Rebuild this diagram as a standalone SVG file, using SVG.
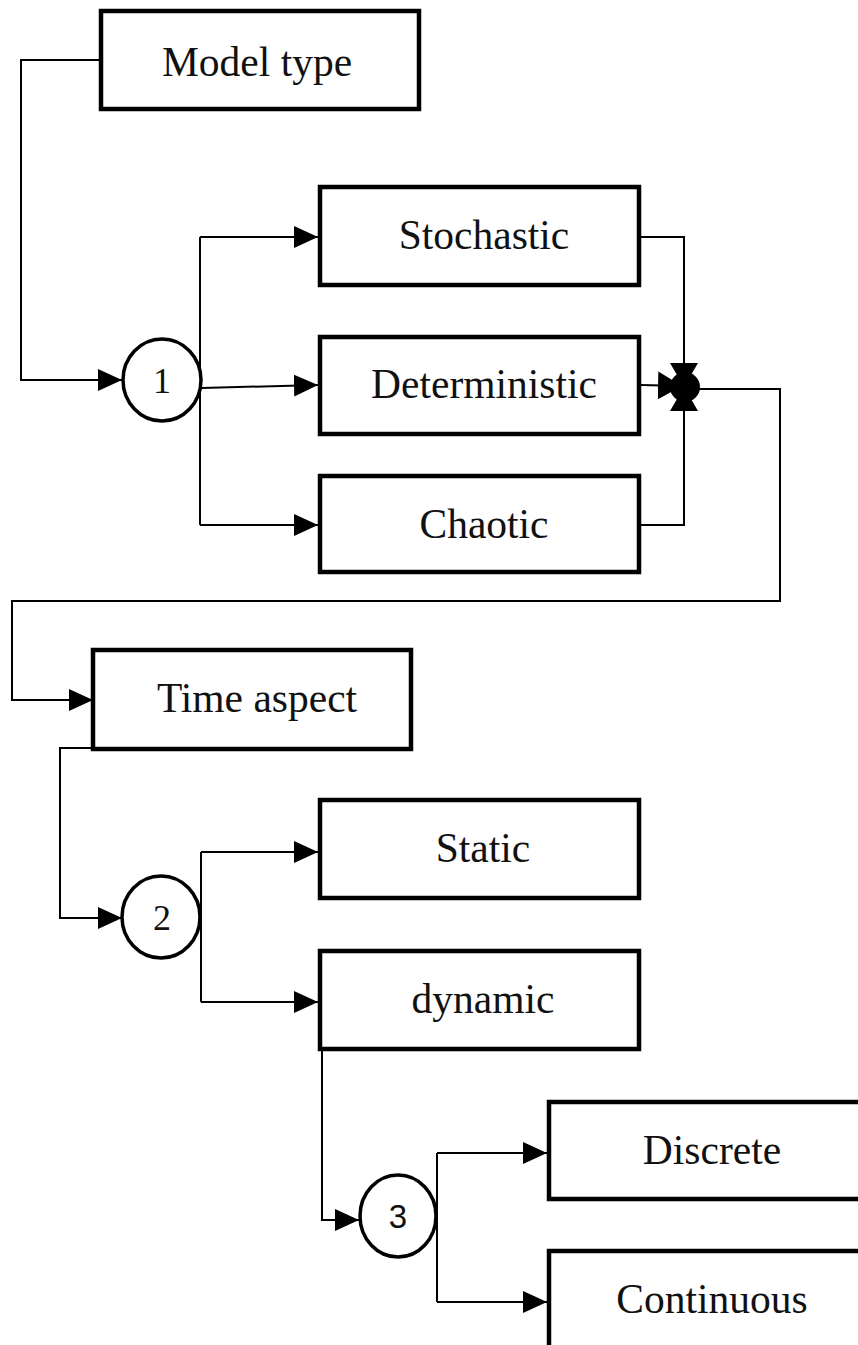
<svg xmlns="http://www.w3.org/2000/svg" width="858" height="1345" viewBox="0 0 858 1345">
  <style>
    .box { fill: #fff; stroke: #000; stroke-width: 4.5; }
    .sel { fill: #fff; stroke: #000; stroke-width: 3.5; }
    .lbl { font-family: "Liberation Serif", "Times New Roman", serif; font-size: 41.5px; fill: #111; text-anchor: middle; }
    .num { font-family: "Liberation Serif", "Times New Roman", serif; font-size: 36px; fill: #111; text-anchor: middle; }
    .num3 { font-family: "Liberation Sans", Arial, sans-serif; font-size: 33px; fill: #111; text-anchor: middle; }
    .wire { fill: none; stroke: #000; stroke-width: 2; }
    .arr { marker-end: url(#head); }
    .arrj { marker-end: url(#headJoin); }
  </style>
  <defs>
    <marker id="head" viewBox="0 0 24 22" refX="24" refY="11" markerWidth="24" markerHeight="22" markerUnits="userSpaceOnUse" orient="auto">
      <path d="M0,0 L24,11 L0,22 Z" fill="#000"/>
    </marker>
    <marker id="headJoin" viewBox="0 0 24 28" refX="24" refY="14" markerWidth="24" markerHeight="28" markerUnits="userSpaceOnUse" orient="auto">
      <path d="M0,0 L24,14 L0,28 Z" fill="#000"/>
    </marker>
  </defs>
  <rect width="858" height="1345" fill="#fff"/>

  <!-- connectors -->
  <g id="connectors">
    <!-- model type to selector 1 -->
    <polyline class="wire arr" points="101,60 21,60 21,380 122,380"/>
    <!-- selector 1 branches -->
    <polyline class="wire" points="200,237 200,525"/>
    <polyline class="wire arr" points="200,237 318,237"/>
    <polyline class="wire arr" points="202,388 318,385"/>
    <polyline class="wire arr" points="200,525 318,525"/>
    <!-- merge into junction -->
    <polyline class="wire arrj" points="641,237 684,237 684,387"/>
    <polyline class="wire arrj" points="641,525 684,525 684,387"/>
    <polyline class="wire arrj" points="641,385 682,386"/>
    <circle cx="685" cy="387" r="15" fill="#000"/>
    <!-- junction to time aspect -->
    <polyline class="wire arr" points="699,389 780,389 780,601 12,601 12,700 93,700"/>
    <!-- time aspect to selector 2 -->
    <polyline class="wire arr" points="93,748 60,748 60,918 122,918"/>
    <!-- selector 2 branches -->
    <polyline class="wire" points="201,852 201,1002"/>
    <polyline class="wire arr" points="201,852 318,852"/>
    <polyline class="wire arr" points="201,1002 318,1002"/>
    <!-- dynamic to selector 3 -->
    <polyline class="wire arr" points="322,1050 322,1220 359,1220"/>
    <!-- selector 3 branches -->
    <polyline class="wire" points="437,1153 437,1302"/>
    <polyline class="wire arr" points="437,1153 547,1153"/>
    <polyline class="wire arr" points="437,1302 547,1302"/>
  </g>

  <g id="model-type">
    <rect class="box" x="101" y="11" width="318" height="98"/>
    <text class="lbl" x="257" y="76">Model type</text>
  </g>
  <g id="selector-1">
    <ellipse class="sel" cx="162" cy="380" rx="39" ry="41"/>
    <text class="num" x="162" y="393">1</text>
  </g>
  <g id="stochastic">
    <rect class="box" x="320" y="187" width="319" height="98"/>
    <text class="lbl" x="484" y="249">Stochastic</text>
  </g>
  <g id="deterministic">
    <rect class="box" x="320" y="337" width="319" height="97"/>
    <text class="lbl" x="484" y="398">Deterministic</text>
  </g>
  <g id="chaotic">
    <rect class="box" x="320" y="476" width="319" height="96"/>
    <text class="lbl" x="484" y="538">Chaotic</text>
  </g>
  <g id="time-aspect">
    <rect class="box" x="93" y="650" width="318" height="99"/>
    <text class="lbl" x="257" y="712">Time aspect</text>
  </g>
  <g id="selector-2">
    <ellipse class="sel" cx="161" cy="917" rx="39" ry="41"/>
    <text class="num" x="162" y="930">2</text>
  </g>
  <g id="static">
    <rect class="box" x="320" y="800" width="319" height="98"/>
    <text class="lbl" x="483" y="862">Static</text>
  </g>
  <g id="dynamic">
    <rect class="box" x="320" y="951" width="319" height="98"/>
    <text class="lbl" x="483" y="1013">dynamic</text>
  </g>
  <g id="selector-3">
    <ellipse class="sel" cx="398" cy="1216" rx="38" ry="41"/>
    <text class="num3" x="398" y="1228">3</text>
  </g>
  <g id="discrete">
    <rect class="box" x="549" y="1102" width="319" height="97"/>
    <text class="lbl" x="712" y="1164">Discrete</text>
  </g>
  <g id="continuous">
    <rect class="box" x="549" y="1251" width="319" height="98"/>
    <text class="lbl" x="712" y="1313">Continuous</text>
  </g>
</svg>
